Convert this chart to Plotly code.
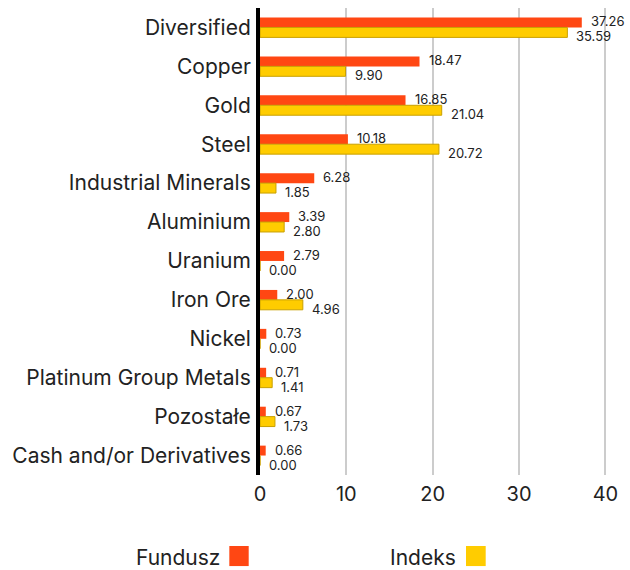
import plotly.graph_objects as go

categories = ["Diversified", "Copper", "Gold", "Steel", "Industrial Minerals", "Aluminium",
              "Uranium", "Iron Ore", "Nickel", "Platinum Group Metals", "Pozostałe",
              "Cash and/or Derivatives"]
fundusz = [37.26, 18.47, 16.85, 10.18, 6.28, 3.39, 2.79, 2.00, 0.73, 0.71, 0.67, 0.66]
indeks = [35.59, 9.90, 21.04, 20.72, 1.85, 2.80, 0.00, 4.96, 0.00, 1.41, 1.73, 0.00]
x_ticks = [0, 10, 20, 30, 40]

ORANGE = "#ff4713"
YELLOW = "#ffcc00"
FONT = "Inter"

fig = go.Figure()
fig.add_trace(go.Bar(y=categories, x=fundusz, orientation="h", name="Fundusz",
                     marker=dict(color=ORANGE, line=dict(width=0))))
fig.add_trace(go.Bar(y=categories, x=indeks, orientation="h", name="Indeks",
                     marker=dict(color=YELLOW, line=dict(color="#c9a000", width=1))))

annotations = []
for c, v in zip(categories, fundusz):
    annotations.append(dict(x=v, y=c, text=f"{v:.2f}", showarrow=False, xanchor="left",
                            xshift=7, yshift=6, font=dict(size=13, color="#222", family=FONT)))
for c, v in zip(categories, indeks):
    annotations.append(dict(x=v, y=c, text=f"{v:.2f}", showarrow=False, xanchor="left",
                            xshift=7, yshift=-9, font=dict(size=13, color="#222", family=FONT)))

# custom legend (text left of swatch)
annotations.append(dict(x=-0.106, y=-0.1756, xref="paper", yref="paper", text="Fundusz",
                        showarrow=False, xanchor="right", yanchor="middle",
                        font=dict(size=21, color="#222", family=FONT)))
annotations.append(dict(x=0.548, y=-0.1756, xref="paper", yref="paper", text="Indeks",
                        showarrow=False, xanchor="right", yanchor="middle",
                        font=dict(size=21, color="#222", family=FONT)))
shapes = [
    dict(type="rect", xref="paper", yref="paper", x0=-0.085, x1=-0.0313, y0=-0.195, y1=-0.152,
         fillcolor=ORANGE, line=dict(width=0)),
    dict(type="rect", xref="paper", yref="paper", x0=0.5706, x1=0.6252, y0=-0.195, y1=-0.152,
         fillcolor=YELLOW, line=dict(width=0)),
]

fig.update_layout(
    width=630, height=570,
    margin=dict(l=260, r=9, t=8, b=95),
    paper_bgcolor="white", plot_bgcolor="white",
    barmode="group", bargap=0.49, bargroupgap=0,
    showlegend=False, hovermode=False,
    font=dict(family=FONT, color="#222"),
    annotations=annotations, shapes=shapes,
    xaxis=dict(range=[0, 41.8], tickvals=x_ticks, showgrid=True, gridcolor="#cccccc",
               gridwidth=2, zeroline=False, showline=False, ticks="",
               tickfont=dict(size=20, color="#222", family=FONT), ticklabelstandoff=5),
    yaxis=dict(autorange="reversed", showline=True, linecolor="black", linewidth=4,
               ticks="", showgrid=False, tickfont=dict(size=21, color="#222", family=FONT),
               ticklabelstandoff=1),
)

fig.write_html("out.html", config={"displayModeBar": False},
               post_script="document.body.style.margin='0';")
